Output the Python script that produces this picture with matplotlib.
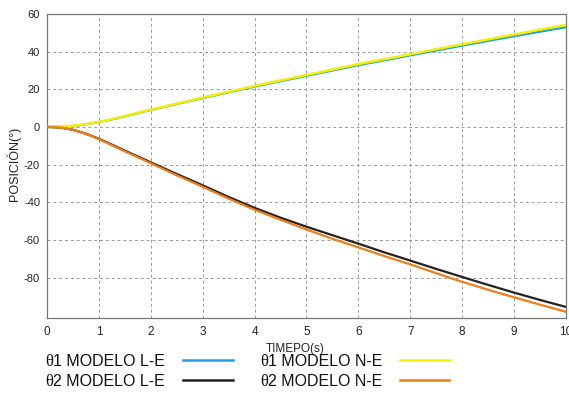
import matplotlib
matplotlib.use("Agg")
import matplotlib.pyplot as plt
from matplotlib.lines import Line2D

# Time samples (s)
t = [0, 0.25, 0.5, 0.75, 1.0, 1.25, 1.5, 2, 2.5, 3, 3.5, 4, 4.5, 5, 5.5, 6, 6.5, 7, 7.5, 8, 8.5, 9, 9.5, 10]

# Joint positions (degrees)
theta1_le = [0, 0.1, 0.5, 1.4, 2.6, 4.0, 5.6, 9.0, 12.2, 15.3, 18.4, 21.4, 24.3, 27.1, 30.0, 32.8, 35.4, 38.0, 40.6, 43.2, 45.7, 48.2, 50.6, 53.0]
theta1_ne = [0, 0.1, 0.6, 1.5, 2.7, 4.2, 5.8, 9.2, 12.4, 15.6, 18.7, 21.8, 24.7, 27.6, 30.5, 33.4, 36.0, 38.6, 41.3, 43.9, 46.5, 49.1, 51.7, 54.2]
theta2_le = [0, -0.3, -1.5, -3.6, -6.3, -9.4, -12.6, -18.8, -25.0, -31.0, -37.2, -43.0, -48.2, -53.0, -57.5, -62.0, -66.6, -71.0, -75.4, -79.7, -83.9, -88.0, -91.9, -95.6]
theta2_ne = [0, -0.3, -1.5, -3.7, -6.5, -9.7, -13.0, -19.3, -25.7, -31.8, -38.1, -44.0, -49.3, -54.5, -59.4, -64.0, -68.6, -73.0, -77.7, -82.3, -86.5, -90.5, -94.4, -98.2]

xticks = list(range(0, 11))
yticks = [-80, -60, -40, -20, 0, 20, 40, 60]

c_blue = "#1ea0e6"
c_black = "#222222"
c_yellow = "#f6f000"
c_orange = "#f07d1a"

tick_font = ["Liberation Sans Narrow", "Liberation Sans", "DejaVu Sans"]
text_font = ["Liberation Sans", "DejaVu Sans"]
greek_font = ["Liberation Serif", "DejaVu Serif"]

fig = plt.figure(figsize=(5.69, 3.93), dpi=100)
ax = fig.add_axes([0.0826, 0.1908, 0.912, 0.7736])

ax.plot(t, theta1_le, color=c_blue, lw=1.6, zorder=3)
ax.plot(t, theta2_le, color=c_black, lw=1.6, zorder=3)
ax.plot(t, theta1_ne, color=c_yellow, lw=1.8, zorder=4)
ax.plot(t, theta2_ne, color=c_orange, lw=1.6, zorder=4)

ax.set_xlim(0, 10)
ax.set_ylim(-101.5, 60)
ax.set_xticks(xticks)
ax.set_yticks(yticks)
ax.set_xticklabels([str(v) for v in xticks], fontfamily=tick_font, fontsize=8.5)
ax.set_yticklabels([str(v) for v in yticks], fontfamily=text_font, fontsize=8)
ax.tick_params(axis="x", length=0, pad=6, colors="#222222")
ax.tick_params(axis="y", length=0, pad=5, colors="#222222")
ax.grid(True, linestyle=(0, (3, 3)), color="#999999", linewidth=0.7)
for s in ax.spines.values():
    s.set_color("#777777")
    s.set_linewidth(0.9)

W, H = 569, 393
fig.text(295 / W, 1 - 349 / H, "TIMEPO(s)", fontfamily=text_font, fontsize=8.5,
         ha="center", va="center", color="#222222")
fig.text(14 / W, 1 - 164 / H, "POSICIÓN(°)", fontfamily=text_font, fontsize=9,
         ha="center", va="center", rotation=90, color="#222222")

# Legend built below the axes
entries = [
    ("θ", "1 MODELO L-E", c_blue, 45, 362, 183, 233),
    ("θ", "2 MODELO L-E", c_black, 45, 382, 183, 233),
    ("θ", "1 MODELO N-E", c_yellow, 260, 362, 400, 449),
    ("θ", "2 MODELO N-E", c_orange, 260, 382, 400, 449),
]
for sym, label, col, tx, ty, lx0, lx1 in entries:
    fy = 1 - ty / H
    fig.text(tx / W, fy, sym, fontsize=12, fontfamily=greek_font,
             va="center", ha="left", color="#111111")
    fig.text((tx + 8) / W, fy, label, fontsize=11.5, fontfamily=text_font,
             va="center", ha="left", color="#111111")
    ly = 1 - (ty - 2) / H
    fig.add_artist(Line2D([lx0 / W, lx1 / W], [ly, ly], color=col, lw=1.8,
                          transform=fig.transFigure))

fig.savefig("out.png", dpi=100)
